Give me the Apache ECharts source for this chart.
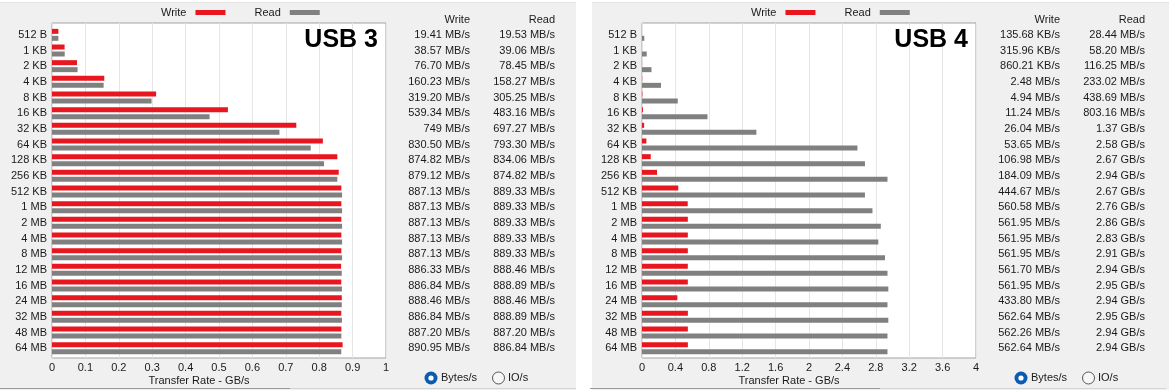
<!DOCTYPE html>
<html>
<head>
<meta charset="utf-8">
<script src="https://cdn.jsdelivr.net/npm/echarts@6/dist/echarts.min.js"></script>
<style>
html,body{margin:0;padding:0;background:#fff;}
#wrap{position:relative;width:1169px;height:390px;overflow:hidden;}
.panel{position:absolute;top:2px;height:388px;background:#f0f0f0;border-top:1px solid #e2e2e2;}
#chart{position:absolute;left:0;top:0;width:1169px;height:390px;}
</style>
</head>
<body>
<div id="wrap">
  <div class="panel" style="left:0;width:576px;"></div>
  <div class="panel" style="left:592px;width:577px;"></div>
  <div id="chart"></div>
</div>
<script>
// ---- data ----
const categories = ['512 B','1 KB','2 KB','4 KB','8 KB','16 KB','32 KB','64 KB','128 KB','256 KB','512 KB','1 MB','2 MB','4 MB','8 MB','12 MB','16 MB','24 MB','32 MB','48 MB','64 MB'];

const usb3Write = [0.0190,0.0377,0.0749,0.1565,0.3117,0.5267,0.7314,0.8110,0.8543,0.8585,0.8663,0.8663,0.8663,0.8663,0.8663,0.8656,0.8661,0.8676,0.8661,0.8664,0.8701];
const usb3Read  = [0.0191,0.0381,0.0766,0.1546,0.2981,0.4718,0.6809,0.7747,0.8145,0.8543,0.8685,0.8685,0.8685,0.8685,0.8685,0.8676,0.8681,0.8676,0.8681,0.8664,0.8661];
const usb3WriteText = ['19.41 MB/s','38.57 MB/s','76.70 MB/s','160.23 MB/s','319.20 MB/s','539.34 MB/s','749 MB/s','830.50 MB/s','874.82 MB/s','879.12 MB/s','887.13 MB/s','887.13 MB/s','887.13 MB/s','887.13 MB/s','887.13 MB/s','886.33 MB/s','886.84 MB/s','888.46 MB/s','886.84 MB/s','887.20 MB/s','890.95 MB/s'];
const usb3ReadText  = ['19.53 MB/s','39.06 MB/s','78.45 MB/s','158.27 MB/s','305.25 MB/s','483.16 MB/s','697.27 MB/s','793.30 MB/s','834.06 MB/s','874.82 MB/s','889.33 MB/s','889.33 MB/s','889.33 MB/s','889.33 MB/s','889.33 MB/s','888.46 MB/s','888.89 MB/s','888.46 MB/s','888.89 MB/s','887.20 MB/s','886.84 MB/s'];

// USB 4 (GB/s)
const usb4Write = [0.00013,0.00031,0.00084,0.0024,0.0048,0.0110,0.0254,0.0524,0.1045,0.1798,0.4343,0.5474,0.5488,0.5488,0.5488,0.5485,0.5488,0.4236,0.5494,0.5491,0.5494];
const usb4Read  = [0.0278,0.0568,0.1135,0.2276,0.4284,0.7843,1.37,2.58,2.67,2.94,2.67,2.76,2.86,2.83,2.91,2.94,2.95,2.94,2.95,2.94,2.94];
const usb4WriteText = ['135.68 KB/s','315.96 KB/s','860.21 KB/s','2.48 MB/s','4.94 MB/s','11.24 MB/s','26.04 MB/s','53.65 MB/s','106.98 MB/s','184.09 MB/s','444.67 MB/s','560.58 MB/s','561.95 MB/s','561.95 MB/s','561.95 MB/s','561.70 MB/s','561.95 MB/s','433.80 MB/s','562.64 MB/s','562.26 MB/s','562.64 MB/s'];
const usb4ReadText  = ['28.44 MB/s','58.20 MB/s','116.25 MB/s','233.02 MB/s','438.69 MB/s','803.16 MB/s','1.37 GB/s','2.58 GB/s','2.67 GB/s','2.94 GB/s','2.67 GB/s','2.76 GB/s','2.86 GB/s','2.83 GB/s','2.91 GB/s','2.94 GB/s','2.95 GB/s','2.94 GB/s','2.95 GB/s','2.94 GB/s','2.94 GB/s'];

const panels = [
  {title:'USB 3', write:usb3Write, read:usb3Read, writeText:usb3WriteText, readText:usb3ReadText, max:1, interval:0.1, dx:0},
  {title:'USB 4', write:usb4Write, read:usb4Read, writeText:usb4WriteText, readText:usb4ReadText, max:4, interval:0.4, dx:590}
];

// ---- chart ----
const FONT = '"Liberation Sans", Arial, sans-serif';
const TXT = '#1a1a1a';
const RED = '#e8161e';
const GRAY = '#808080';

const grid = [], xAxis = [], yAxis = [], series = [], legend = [], graphic = [];

panels.forEach((p, k) => {
  const gBox = grid.length;
  grid.push({left:52+p.dx, top:23, width:334, height:335, show:true, backgroundColor:'#fff', borderColor:'#a3a3a3', borderWidth:1, containLabel:false});
  const gBar = grid.length;
  grid.push({left:52+p.dx, top:27, width:334, height:329, show:false, containLabel:false});

  xAxis.push({type:'value', gridIndex:gBox, min:0, max:p.max, interval:p.interval,
    axisLine:{show:false}, axisTick:{show:false},
    splitLine:{show:true, lineStyle:{color:'#e6e6e6', width:1}},
    axisLabel:{fontFamily:FONT, fontSize:11, color:TXT, margin:4}});
  const xBar = xAxis.length;
  xAxis.push({type:'value', gridIndex:gBar, min:0, max:p.max, show:false});

  yAxis.push({type:'value', gridIndex:gBox, show:false});
  const yCat = yAxis.length;
  yAxis.push({type:'category', gridIndex:gBar, inverse:true, data:categories,
    axisLine:{show:false}, axisTick:{show:false},
    axisLabel:{fontFamily:FONT, fontSize:11, color:TXT, margin:5, interval:0}});
  yAxis.push({type:'category', gridIndex:gBar, inverse:true, position:'right', offset:84, data:p.writeText,
    axisLine:{show:false}, axisTick:{show:false},
    axisLabel:{fontFamily:FONT, fontSize:11, color:TXT, margin:0, align:'right', interval:0}});
  yAxis.push({type:'category', gridIndex:gBar, inverse:true, position:'right', offset:169, data:p.readText,
    axisLine:{show:false}, axisTick:{show:false},
    axisLabel:{fontFamily:FONT, fontSize:11, color:TXT, margin:0, align:'right', interval:0}});

  series.push({name:'Write', type:'bar', xAxisIndex:xBar, yAxisIndex:yCat, data:p.write,
    barWidth:5, barGap:'40%', itemStyle:{color:RED}, silent:true});
  series.push({name:'Read', type:'bar', xAxisIndex:xBar, yAxisIndex:yCat, data:p.read,
    barWidth:5, barGap:'40%', itemStyle:{color:GRAY}, silent:true});

  legend.push({data:['Write','Read'], left:161+p.dx, top:7, align:'right', icon:'rect',
    itemWidth:30, itemHeight:5, itemGap:29, padding:0,
    textStyle:{fontFamily:FONT, fontSize:11, color:TXT, padding:[0,4,0,0]}});

  graphic.push(
    {type:'text', left:null, x:378+p.dx, y:40, z:10, style:{text:p.title, font:'bold 25px '+FONT, fill:'#000', textAlign:'right', textVerticalAlign:'middle'}},
    {type:'text', x:470+p.dx, y:20, style:{text:'Write', font:'11px '+FONT, fill:TXT, textAlign:'right', textVerticalAlign:'middle'}},
    {type:'text', x:555+p.dx, y:20, style:{text:'Read', font:'11px '+FONT, fill:TXT, textAlign:'right', textVerticalAlign:'middle'}},
    {type:'text', x:199+p.dx, y:381, style:{text:'Transfer Rate - GB/s', font:'11px '+FONT, fill:TXT, textAlign:'center', textVerticalAlign:'middle'}},
    {type:'circle', shape:{cx:431+p.dx, cy:378, r:6.5}, style:{fill:'#0a5cb0'}},
    {type:'circle', shape:{cx:431+p.dx, cy:378, r:2.6}, style:{fill:'#fff'}},
    {type:'text', x:441+p.dx, y:378, style:{text:'Bytes/s', font:'11px '+FONT, fill:TXT, textAlign:'left', textVerticalAlign:'middle'}},
    {type:'circle', shape:{cx:498.5+p.dx, cy:378, r:6}, style:{fill:'#f7f7f7', stroke:'#555', lineWidth:1}},
    {type:'text', x:508+p.dx, y:378, style:{text:'IO/s', font:'11px '+FONT, fill:TXT, textAlign:'left', textVerticalAlign:'middle'}},
    {type:'line', shape:{x1:0+p.dx, y1:388.5, x2:290+p.dx, y2:388.5}, style:{stroke:'#9a9a9a', lineWidth:1}},
    {type:'line', shape:{x1:290+p.dx, y1:388.5, x2:576+p.dx, y2:388.5}, style:{stroke:'#d4d4d4', lineWidth:1}}
  );
});

const chart = echarts.init(document.getElementById('chart'), null, {renderer:'canvas'});
chart.setOption({
  animation:false,
  backgroundColor:'transparent',
  textStyle:{fontFamily:FONT},
  grid, xAxis, yAxis, series, legend, graphic
});
</script>
</body>
</html>
